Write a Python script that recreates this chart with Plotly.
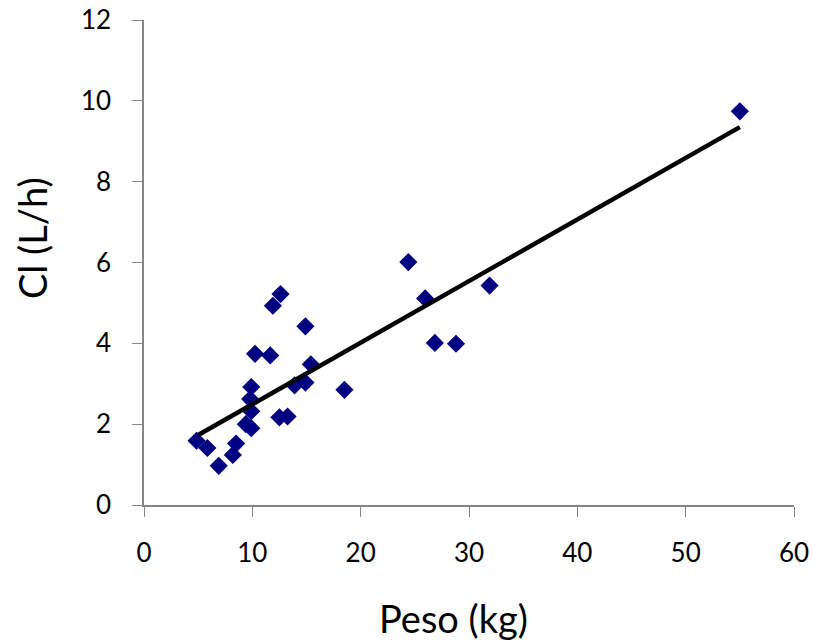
import plotly.graph_objects as go

peso = [4.85, 5.85, 6.9, 8.2, 8.5, 9.4, 9.9, 9.9, 9.8, 9.9, 10.25, 11.65, 11.9, 12.6,
        12.5, 13.25, 13.9, 14.9, 14.9, 15.4, 18.5, 24.4, 25.95, 31.9, 26.85, 28.8, 55.0]
cl = [1.59, 1.41, 0.97, 1.24, 1.52, 2.0, 1.9, 2.32, 2.62, 2.92, 3.74, 3.70, 4.93, 5.22,
      2.17, 2.19, 2.96, 3.03, 4.42, 3.48, 2.85, 6.01, 5.11, 5.43, 4.01, 3.99, 9.74]

trend_x = [5, 55]
trend_y = [1.73, 9.35]

x_ticks = [0, 10, 20, 30, 40, 50, 60]
y_ticks = [0, 2, 4, 6, 8, 10, 12]

x_title = "Peso (kg)"
y_title = "Cl (L/h)"

FONT = "Lato, Open Sans, sans-serif"

fig = go.Figure()
fig.add_trace(go.Scatter(x=peso, y=cl, mode="markers",
                         marker=dict(symbol="diamond", size=14, color="#000080"),
                         showlegend=False, cliponaxis=False))
fig.add_trace(go.Scatter(x=trend_x, y=trend_y, mode="lines",
                         line=dict(color="black", width=4.5), showlegend=False))

fig.update_layout(
    width=813, height=643,
    margin=dict(l=144, r=19, t=20, b=138),
    plot_bgcolor="white", paper_bgcolor="white",
    font=dict(family=FONT, color="black"),
    annotations=[
        dict(text=x_title, xref="paper", yref="paper", x=0.4754, y=-0.233,
             xanchor="center", yanchor="middle", showarrow=False,
             font=dict(size=38, family=FONT, color="black")),
        dict(text=y_title, xref="paper", yref="paper", x=-0.1723, y=0.5505,
             xanchor="center", yanchor="middle", showarrow=False, textangle=-90,
             font=dict(size=38, family=FONT, color="black")),
    ],
)
fig.update_xaxes(range=[0, 60], tickvals=x_ticks, ticktext=[str(v) for v in x_ticks],
                 automargin=False,
                 showgrid=False, zeroline=False, showline=True, linecolor="#868686",
                 linewidth=1.5, ticks="outside", ticklen=10, tickcolor="#868686",
                 ticklabelstandoff=14,
                 tickfont=dict(size=26, family=FONT))
fig.update_yaxes(range=[0, 12], tickvals=y_ticks, ticktext=[str(v) for v in y_ticks],
                 automargin=False,
                 showgrid=False, zeroline=False, showline=True, linecolor="#868686",
                 linewidth=1.5, ticks="outside", ticklen=10, tickcolor="#868686",
                 ticklabelstandoff=16,
                 tickfont=dict(size=26, family=FONT))

fig.write_html("out.html")
